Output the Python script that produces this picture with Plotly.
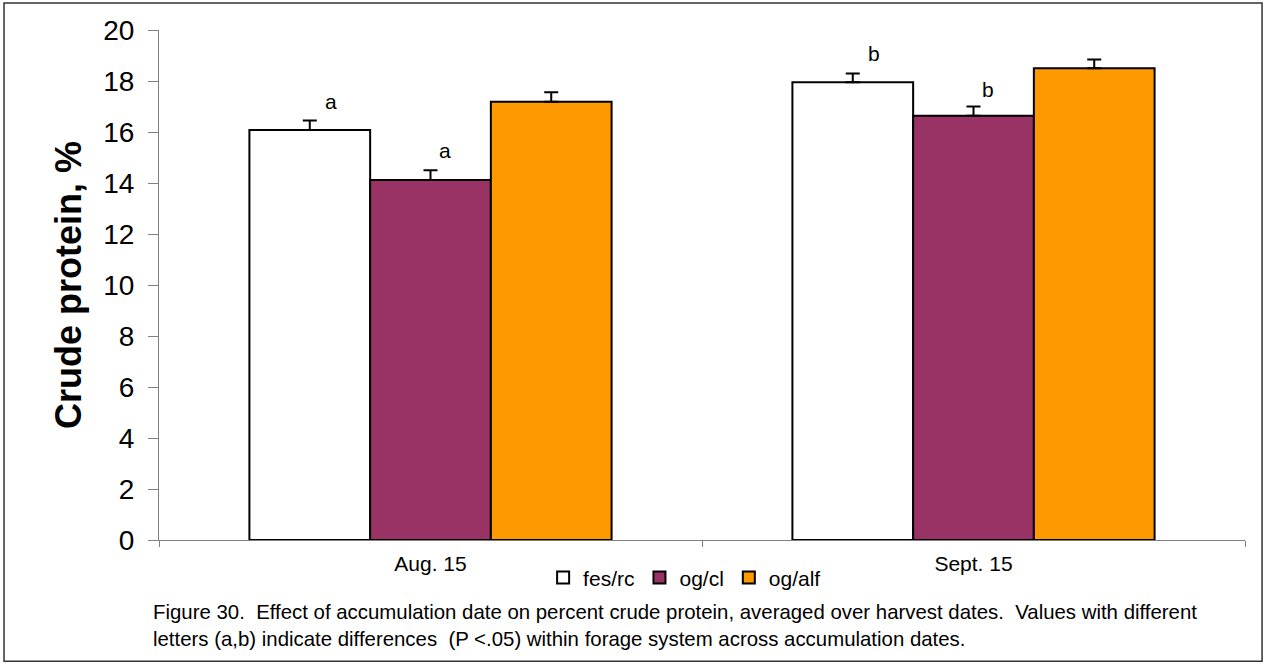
import plotly.graph_objects as go

dates = ["Aug. 15", "Sept. 15"]
series = ["fes/rc", "og/cl", "og/alf"]
colors = ["#FFFFFF", "#993366", "#FF9900"]
values = {
    "fes/rc": [16.08, 17.95],
    "og/cl": [14.12, 16.64],
    "og/alf": [17.19, 18.50],
}
errors = {
    "fes/rc": [0.37, 0.34],
    "og/cl": [0.38, 0.36],
    "og/alf": [0.37, 0.34],
}
letters = {
    "fes/rc": ["a", "b"],
    "og/cl": ["a", "b"],
}
letter_y = {
    "fes/rc": [17.2, 19.06],
    "og/cl": [15.27, 17.66],
}
yticks = list(range(0, 21, 2))
caption = ("Figure 30.  Effect of accumulation date on percent crude protein, averaged over harvest dates.  Values with different<br>"
           "letters (a,b) indicate differences  (P <.05) within forage system across accumulation dates.")

FONT = "Liberation Sans, Arial"
fig = go.Figure()
for s, c in zip(series, colors):
    fig.add_trace(go.Bar(
        x=dates, y=values[s], name=s,
        marker=dict(color=c, line=dict(color="black", width=2)),
        error_y=dict(type="data", array=errors[s], arrayminus=[0] * len(dates),
                     symmetric=False, color="black", thickness=2, width=7),
    ))

shift = {"fes/rc": -121 + 21, "og/cl": 14}
for s in letters:
    for d, l, yv in zip(dates, letters[s], letter_y[s]):
        fig.add_annotation(x=d, y=yv, text=l, showarrow=False, xshift=shift[s],
                           font=dict(size=21, color="black", family=FONT))

fig.add_annotation(xref="paper", yref="paper", x=-0.0075, y=-0.115, xanchor="left", yanchor="top",
                   text=caption, showarrow=False, align="left",
                   font=dict(size=20.4, color="black", family=FONT))

fig.add_shape(type="rect", xref="paper", yref="paper", x0=-0.1427, x1=1.0157, y0=-0.2378, y1=1.053,
              line=dict(color="#333333", width=1.5), fillcolor="rgba(0,0,0,0)")

fig.update_layout(
    width=1266, height=666,
    margin=dict(l=159, r=21, t=30, b=126),
    paper_bgcolor="white", plot_bgcolor="white",
    barmode="group", bargap=0.333, bargroupgap=0,
    font=dict(family=FONT, color="black"),
    showlegend=True,
    legend=dict(orientation="h", x=0.484, xanchor="center", y=-0.074, yanchor="middle",
                font=dict(size=21), itemwidth=30, tracegroupgap=0,
                bgcolor="rgba(0,0,0,0)"),
    xaxis=dict(showline=True, linecolor="#808080", linewidth=1, ticks="outside", tickson="boundaries",
               ticklen=6, tickcolor="#808080", tickfont=dict(size=21), ticklabelstandoff=5,
               showgrid=False),
    yaxis=dict(range=[0, 20], tickvals=yticks, showline=True, linecolor="#808080", linewidth=1,
               ticks="outside", ticklen=10, tickcolor="#808080", tickfont=dict(size=28),
               ticklabelstandoff=8,
               showgrid=False, zeroline=False,
               title=dict(text="<b>Crude protein, %</b>", font=dict(size=36), standoff=10)),
)
fig.write_html("out.html", post_script="document.body.style.margin='0';",
               config={"displayModeBar": False})
